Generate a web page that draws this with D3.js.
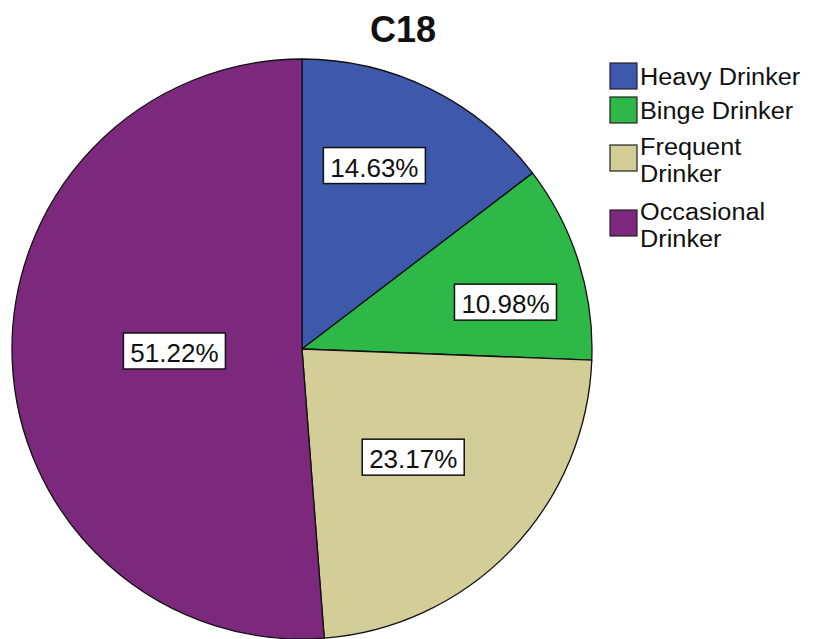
<!DOCTYPE html>
<html>
<head>
<meta charset="utf-8">
<script src="https://cdn.jsdelivr.net/npm/d3@7"></script>
<style>
  html, body { margin: 0; padding: 0; background: #ffffff; }
  svg { display: block; }
</style>
</head>
<body>
<svg id="chart" width="816" height="639"></svg>
<script>
// ---- data ----
const title = "C18";
const categories = ["Heavy Drinker", "Binge Drinker", "Frequent Drinker", "Occasional Drinker"];
const legendLines = [["Heavy Drinker"], ["Binge Drinker"], ["Frequent", "Drinker"], ["Occasional", "Drinker"]];
const percents = [14.63, 10.98, 23.17, 51.22];
const colors = ["#3e58ac", "#2eb848", "#d3ce97", "#7c287d"];

// ---- layout config ----
const W = 816, H = 639;
const cx = 302, cy = 349, R = 290;
const labelRadiusFrac = [0.68, 0.72, 0.535, 0.44];
const labelAngleShiftDeg = [-4.8, 4.6, 0.3, 1.3];
const font = "Arial, 'Liberation Sans', Helvetica, sans-serif";

const svg = d3.select("#chart");

svg.append("text")
  .attr("x", 403).attr("y", 42)
  .attr("text-anchor", "middle")
  .attr("font-family", font)
  .attr("font-weight", "bold")
  .attr("font-size", 36)
  .attr("fill", "#111")
  .text(title);

const pie = d3.pie().sort(null).value(d => d)(percents);
const arc = d3.arc().innerRadius(0).outerRadius(R);

const g = svg.append("g").attr("transform", `translate(${cx},${cy})`);
g.selectAll("path.slice").data(pie).join("path")
  .attr("class", "slice")
  .attr("d", arc)
  .attr("fill", (d, i) => colors[i])
  .attr("stroke", "#111")
  .attr("stroke-width", 1.3)
  .attr("stroke-linejoin", "round");

// labels
const labels = g.selectAll("g.lab").data(pie).join("g").attr("class", "lab")
  .attr("transform", (d, i) => {
    const a = (d.startAngle + d.endAngle) / 2 + labelAngleShiftDeg[i] * Math.PI / 180;
    const r = R * labelRadiusFrac[i];
    return `translate(${r * Math.sin(a)},${-r * Math.cos(a)})`;
  });
labels.each(function(d, i) {
  const sel = d3.select(this);
  sel.append("rect")
    .attr("x", -51).attr("y", -18).attr("width", 102).attr("height", 36)
    .attr("fill", "#fff").attr("stroke", "#111").attr("stroke-width", 1.5);
  sel.append("text")
    .attr("text-anchor", "middle")
    .attr("font-family", font)
    .attr("font-size", 26)
    .attr("fill", "#111")
    .attr("y", 11)
    .text(d3.format(".2f")(percents[i]) + "%");
});

// legend
const lg = svg.append("g");
const itemTops = [63, 97, 133, 198];
const lineH = 26.5;
legendLines.forEach((lines, i) => {
  const top = itemTops[i];
  lg.append("rect")
    .attr("x", 610).attr("y", lines.length > 1 ? top + 12 : top)
    .attr("width", 27).attr("height", 26)
    .attr("fill", colors[i]).attr("stroke", "#222").attr("stroke-width", 1.2);
  lines.forEach((ln, j) => {
    const t = lg.append("text")
      .attr("x", 640).attr("y", top + 22 + j * lineH)
      .attr("font-family", font)
      .attr("font-size", 23)
      .attr("fill", "#111")
      .text(ln);
    const w = t.node().getComputedTextLength();
    t.attr("textLength", w * 1.1).attr("lengthAdjust", "spacingAndGlyphs");
  });
});
</script>
</body>
</html>
